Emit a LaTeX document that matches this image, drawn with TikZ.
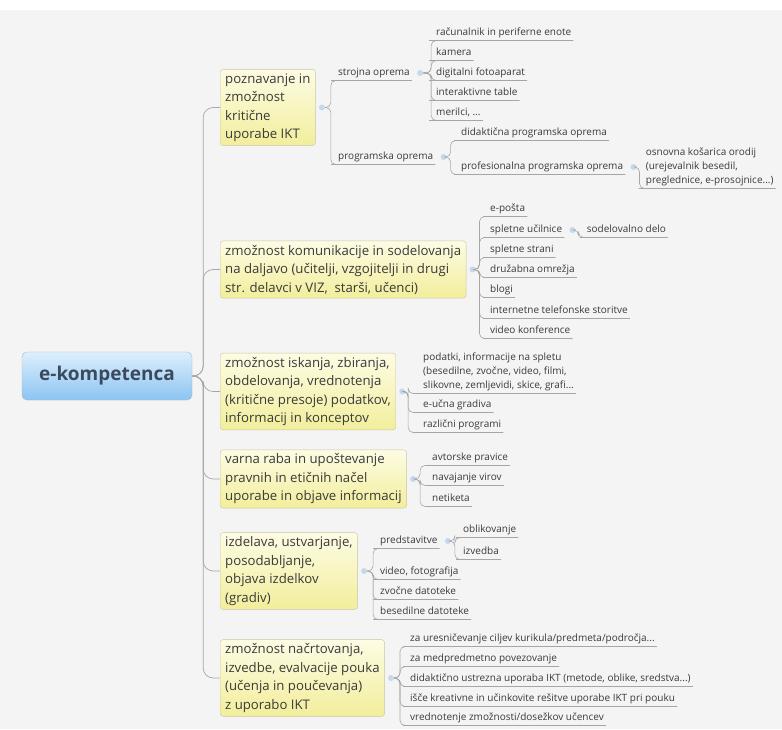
\documentclass[tikz,border=0pt]{standalone}
\usepackage{fontspec}
\setmainfont{Open Sans}
\usetikzlibrary{positioning}
\definecolor{bgcol}{HTML}{F4F4F4}
\definecolor{txtcol}{HTML}{3A3A3A}
\definecolor{linecol}{HTML}{A6A6A6}
\definecolor{boxline}{HTML}{C8C6A4}
\definecolor{boxtop}{HTML}{FDFCE4}
\definecolor{boxbot}{HTML}{F2EE9C}
\definecolor{roottop}{HTML}{DDEFFC}
\definecolor{rootbot}{HTML}{8CC4F2}
\definecolor{rootline}{HTML}{97B9D8}
\definecolor{roottext}{HTML}{3B4A5C}
\definecolor{dotcol}{HTML}{C6D8EC}

\tikzset{
  root/.style={draw=rootline, top color=roottop, bottom color=rootbot, rounded corners=5pt,
    minimum width=170pt, minimum height=48pt, text=roottext,
    font=\bfseries\fontsize{19}{22}\selectfont},
  topic/.style={draw=boxline, top color=boxtop, bottom color=boxbot, rounded corners=3pt,
    anchor=west, align=left, inner xsep=5pt, inner ysep=4pt, text=txtcol,
    font=\fontsize{13.2}{18.5}\selectfont},
  leaf/.style={anchor=west, inner xsep=2pt, inner ysep=2.3pt, text height=7.5pt, text depth=2.5pt,
    text=txtcol, font=\fontsize{10}{14}\selectfont},
  leafm/.style={anchor=west, align=left, inner xsep=2pt, inner ysep=2.3pt,
    text=txtcol, font=\fontsize{10}{14}\selectfont},
  knob/.style={circle, fill=dotcol, inner sep=0pt, minimum size=6pt},
  link/.style={draw=linecol, line width=0.6pt, rounded corners=5pt},
  trunk/.style={draw=linecol, line width=0.7pt, rounded corners=10pt},
}
\newcommand{\twig}[3]{\draw[link] (#1) -- ++(#2,0) |- (#3.south west) -- (#3.south east);}

\begin{document}
\begin{tikzpicture}[x=1pt, y=-1pt]
  \useasboundingbox (0,0) rectangle (782,729);
  \fill[white] (0,0) rectangle (782,729);
  \fill[bgcol] (0,10) rectangle (782,729);

  \node[root] (ek) at (107,376) {e-kompetenca};

  \node[topic] (t1) at (220,107.5) {poznavanje in\\zmožnost\\kritične\\uporabe IKT};
  \node[topic] (t2) at (220,269.5) {zmožnost komunikacije in sodelovanja\\na daljavo (učitelji, vzgojitelji in drugi\\str. delavci v VIZ,~~starši, učenci)};
  \node[topic] (t3) at (220,391.5) {zmožnost iskanja, zbiranja,\\obdelovanja, vrednotenja\\(kritične presoje) podatkov,\\informacij in konceptov};
  \node[topic] (t4) at (220,479) {varna raba in upoštevanje\\pravnih in etičnih načel\\uporabe in objave informacij};
  \node[topic] (t5) at (220,571) {izdelava, ustvarjanje,\\posodabljanje,\\objava izdelkov\\(gradiv)};
  \node[topic] (t6) at (220,678) {zmožnost načrtovanja,\\izvedbe, evalvacije pouka\\(učenja in poučevanja)\\z uporabo IKT};

  \foreach \t in {t1,t2,t3,t4,t5,t6}
    {\draw[trunk] (ek.east) -- ++(11,0) |- (\t.west);}

  \node[knob, right=3pt of t1] (t1k) {};
  \node[knob, right=3pt of t2] (t2k) {};
  \node[knob, right=3pt of t3] (t3k) {};
  \node[knob, right=3pt of t4] (t4k) {};
  \node[knob, right=3pt of t5] (t5k) {};
  \node[knob, right=3pt of t6] (t6k) {};

  % poznavanje
  \node[leaf] (s1) at (336,73) {strojna oprema};
  \node[leaf] (s2) at (336,157) {programska oprema};
  \node[knob, right=5pt of s1] (s1k) {};
  \node[knob, right=5pt of s2] (s2k) {};
  \node[leaf] (h1) at (434,33) {računalnik in periferne enote};
  \node[leaf] (h2) at (434,53) {kamera};
  \node[leaf] (h3) at (434,73) {digitalni fotoaparat};
  \node[leaf] (h4) at (434,93) {interaktivne table};
  \node[leaf] (h5) at (434,113) {merilci, ...};
  \node[leaf] (p1) at (459,133) {didaktična programska oprema};
  \node[leaf] (p2) at (459,167) {profesionalna programska oprema};
  \node[knob, right=5pt of p2] (p2k) {};
  \node[leafm, right=7pt of p2k] (p3) {osnovna košarica orodij\\(urejevalnik besedil,\\preglednice, e-prosojnice...)};
  \foreach \c in {s1,s2} {\twig{t1k}{9}{\c}}
  \foreach \c in {h1,h2,h3,h4,h5} {\twig{s1k}{11}{\c}}
  \foreach \c in {p1,p2} {\twig{s2k}{7}{\c}}
  \twig{p2k}{6}{p3}

  % komunikacija
  \node[leaf] (k1) at (488,209) {e-pošta};
  \node[leaf] (k2) at (488,230) {spletne učilnice};
  \node[leaf] (k3) at (488,250) {spletne strani};
  \node[leaf] (k4) at (488,270) {družabna omrežja};
  \node[leaf] (k5) at (488,290) {blogi};
  \node[leaf] (k6) at (488,311) {internetne telefonske storitve};
  \node[leaf] (k7) at (488,331) {video konference};
  \node[knob, right=5pt of k2] (k2k) {};
  \node[leaf, right=9pt of k2k] (k8) {sodelovalno delo};
  \foreach \c in {k1,k2,k3,k4,k5,k6,k7} {\twig{t2k}{7}{\c}}
  \twig{k2k}{6}{k8}

  % iskanje
  \node[leafm] (i1) at (421,372) {podatki, informacije na spletu\\(besedilne, zvočne, video, filmi,\\slikovne, zemljevidi, skice, grafi...};
  \node[leaf] (i2) at (421,405) {e-učna gradiva};
  \node[leaf] (i3) at (421,425) {različni programi};
  \foreach \c in {i1,i2,i3} {\twig{t3k}{6}{\c}}

  % varna raba
  \node[leaf] (v1) at (430,458) {avtorske pravice};
  \node[leaf] (v2) at (430,478) {navajanje virov};
  \node[leaf] (v3) at (430,499) {netiketa};
  \foreach \c in {v1,v2,v3} {\twig{t4k}{7}{\c}}

  % izdelava
  \node[leaf] (z1) at (378,541) {predstavitve};
  \node[leaf] (z2) at (378,572) {video, fotografija};
  \node[leaf] (z3) at (378,592) {zvočne datoteke};
  \node[leaf] (z4) at (378,612) {besedilne datoteke};
  \node[knob, right=5pt of z1] (z1k) {};
  \node[leaf] (o1) at (461,530) {oblikovanje};
  \node[leaf] (o2) at (461,552) {izvedba};
  \foreach \c in {z1,z2,z3,z4} {\twig{t5k}{9}{\c}}
  \foreach \c in {o1,o2} {\twig{z1k}{7}{\c}}

  % pouk
  \node[leaf] (n1) at (408,639) {za uresničevanje ciljev kurikula/predmeta/področja...};
  \node[leaf] (n2) at (408,659) {za medpredmetno povezovanje};
  \node[leaf] (n3) at (408,679) {didaktično ustrezna uporaba IKT (metode, oblike, sredstva...)};
  \node[leaf] (n4) at (408,699) {išče kreativne in učinkovite rešitve uporabe IKT pri pouku};
  \node[leaf] (n5) at (408,718) {vrednotenje zmožnosti/dosežkov učencev};
  \foreach \c in {n1,n2,n3,n4,n5} {\twig{t6k}{9}{\c}}
\end{tikzpicture}
\end{document}
